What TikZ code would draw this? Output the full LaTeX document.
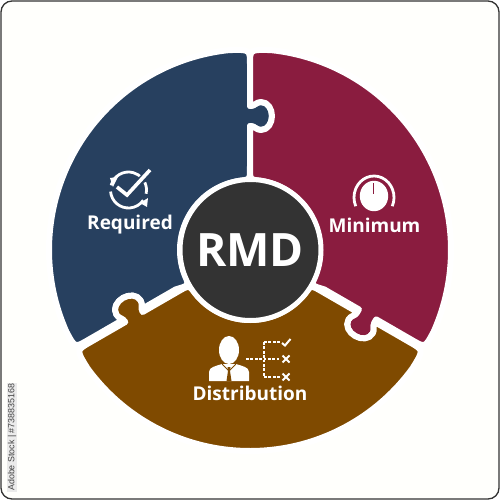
\documentclass[tikz,border=0pt]{standalone}
\usepackage{fontspec}
\setmainfont{Open Sans}
\newfontfamily\sidefont{Liberation Sans}
\definecolor{pieceblue}{HTML}{27405F}
\definecolor{piecered}{HTML}{8A1C3F}
\definecolor{piecebrown}{HTML}{7F4A00}
\definecolor{hubdark}{HTML}{333333}
\definecolor{paper}{HTML}{FFFFFC}
\tikzset{
  piece/.style={fill=#1,draw=white,line width=6pt,line join=round},
  label/.style={text=white,font=\bfseries\fontsize{19}{20}\selectfont,inner sep=0pt},
  iconline/.style={draw=white,line width=2.8pt,line cap=butt,line join=round},
  dotline/.style={draw=white,line width=2.7pt,dash pattern=on 2.7pt off 1.7pt},
  markline/.style={draw=white,line width=2pt}
}
% #1 rotation, #2 colour, #3 extra offset of knob edge, #4 extra offset of socket edge
\newcommand{\puzzlepiece}[4]{%
  \path[piece=#2,rotate=#1]
    (-#3,84) -- (-#3,124) -- (0,124)
    .. controls (5,124) and (6,120) .. (11,120)
    .. controls (18,120) and (22,127) .. (22,134)
    .. controls (22,141) and (18,148) .. (11,148)
    .. controls (6,148) and (5,144) .. (0,144)
    -- (-#3,144) -- (-#3,186) .. controls (-#3,200.5) .. (96:201)
    arc[start angle=96,end angle=204,radius=201]
    .. controls ([rotate=120]#4,200.5) .. ([rotate=120]#4,186)
    -- ([rotate=120]#4,144) -- ([rotate=120]0,144)
    .. controls ([rotate=120]5,144) and ([rotate=120]6,148) .. ([rotate=120]11,148)
    .. controls ([rotate=120]18,148) and ([rotate=120]22,141) .. ([rotate=120]22,134)
    .. controls ([rotate=120]22,127) and ([rotate=120]18,120) .. ([rotate=120]11,120)
    .. controls ([rotate=120]6,120) and ([rotate=120]5,124) .. ([rotate=120]0,124)
    -- ([rotate=120]#4,124) -- ([rotate=120]#4,84) .. controls (210:71) .. (205:70)
    arc[start angle=205,end angle=95,radius=70]
    .. controls (90:71) .. (-#3,84) -- cycle;
}
\begin{document}
\begin{tikzpicture}[x=1pt,y=1pt]
\useasboundingbox (-250,-250) rectangle (250,250);
\fill[white] (-250,-250) rectangle (250,250);
\draw[fill=paper,draw=hubdark,line width=1.3pt,rounded corners=11pt] (-249,-249) rectangle (249,249);
\node[rotate=90,anchor=west,inner sep=1pt,fill=black!8,text=black!75,font=\sidefont\fontsize{8.9}{10}\selectfont] (sidetext) at (-238,-242) {Adobe Stock | \#738835168};

\puzzlepiece{0}{pieceblue}{0}{3}
\puzzlepiece{-120}{piecered}{3}{0}
\puzzlepiece{-240}{piecebrown}{0}{0}

\node[circle,fill=hubdark,draw=white,line width=5pt,minimum size=141pt,inner sep=0pt] (hub) at (0.5,0) {};
\node[text=white,font=\bfseries\fontsize{46}{50}\selectfont,inner sep=0pt] (rmd) at (0,0) {RMD};

\node[label] (required) at (-120,25) {Required};
\node[label] (minimum) at (124.5,25) {Minimum};
\node[label] (distribution) at (0,-143) {Distribution};

% Required icon: circular arrows and a check mark
\draw[iconline] (-121.5,60) ++(165:18) arc[start angle=165,end angle=40,radius=18];
\draw[iconline] (-121.5,60) ++(25:18) arc[start angle=25,end angle=-12,radius=18];
\draw[iconline] (-121.5,60) ++(185:18) arc[start angle=185,end angle=325,radius=18];
\fill[white] (-140,72) -- (-132,73) -- (-137,63) -- cycle;
\fill[white] (-102,52) -- (-103,43) -- (-110,47) -- cycle;
\draw[pieceblue,line width=6.5pt] (-133,63) -- (-123,55) -- (-100,80);
\draw[white,line width=3.6pt,line join=miter] (-133,63) -- (-123,55) -- (-100,80);

% Minimum icon: gauge
\fill[white] (124,54) ellipse[x radius=14.2,y radius=15.2];
\draw[iconline] (124,52.5) ++(-24:20 and 21.5) arc[start angle=-24,end angle=204,x radius=20,y radius=21.5];
\draw[piecered,line width=1pt] (123.5,66.5) -- (123.5,56);

% Distribution icon: person
\fill[white] (-21,-100) ellipse[x radius=10,y radius=14];
\fill[white] (-41,-131) -- (-41,-122) .. controls (-41,-117) and (-34,-116) .. (-28,-114)
  -- (-14,-114) .. controls (-8,-116) and (-1,-117) .. (-1,-122) -- (-1,-131) -- cycle;
\draw[piecebrown,line width=0.8pt] (-28,-114) -- (-21,-121) -- (-14,-114);
\fill[piecebrown] (-22.5,-117) -- (-19.5,-117) -- (-20,-121) -- (-18.5,-131) -- (-23.5,-131) -- (-22,-121) -- cycle;

% Distribution icon: dotted tree with marks
\draw[dotline] (-4,-109) -- (29,-109);
\draw[dotline] (14,-92) -- (14,-127);
\draw[dotline] (14,-92) -- (30,-92);
\draw[dotline] (14,-127) -- (30,-127);
\draw[markline] (32,-93) -- (35,-95.5) -- (40.5,-89);
\draw[markline] (32.5,-105.5) -- (39.5,-112.5) (32.5,-112.5) -- (39.5,-105.5);
\draw[markline] (32.5,-123.5) -- (39.5,-130.5) (32.5,-130.5) -- (39.5,-123.5);
\end{tikzpicture}
\end{document}
